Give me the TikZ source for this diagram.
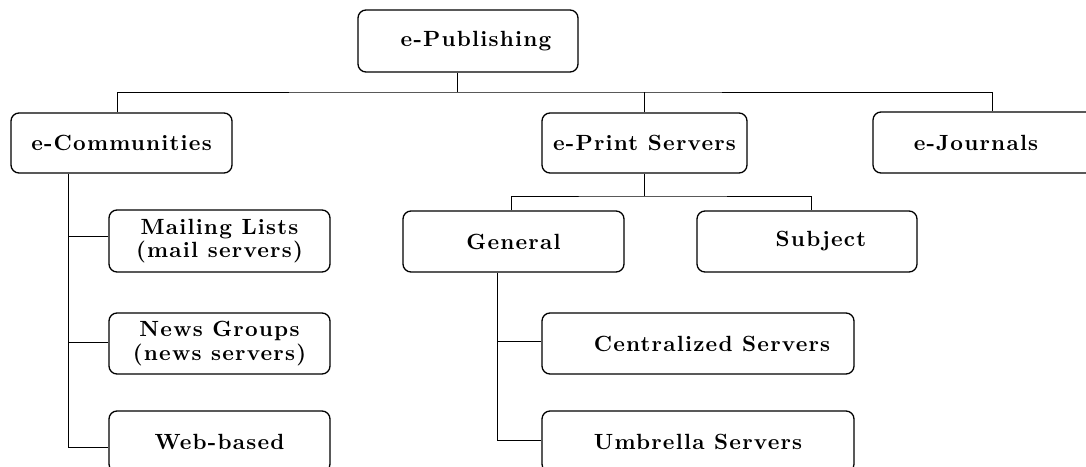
\documentclass[tikz,border=0pt]{standalone}
\usepackage{fontspec}
\setmainfont{Latin Modern Roman}
\newfontfamily\lsfont[LetterSpace=5.5]{lmroman10-bold.otf}
\begin{document}
\begin{tikzpicture}[x=0.5pt,y=-0.5pt,
  box/.style={draw, line width=0.65pt, rounded corners=4pt, inner sep=0pt,
    align=center, font=\lsfont\fontsize{11}{11.8}\selectfont},
  link/.style={draw, line width=0.5pt}]
\useasboundingbox (0,0) rectangle (1086,466);
\clip (0,0) rectangle (1086,466);
% top level
\node[box, minimum width=110pt, minimum height=31pt] (pub) at (468,41) {\hspace*{8pt}e-Publishing};
\node[box, minimum width=110.5pt, minimum height=30pt] (com) at (121.5,143) {e-Communities};
\node[box, minimum width=102.5pt, minimum height=30pt] (eps) at (644.5,143) {e-Print Servers};
\node[box, minimum width=111pt, minimum height=30.5pt] (ejo) at (984,142.5) {\hspace*{-8pt}e-Journals};
% e-Communities children
\node[box, minimum width=110.5pt, minimum height=31pt] (mail) at (219.5,241) {Mailing Lists\\(mail servers)};
\node[box, minimum width=110.5pt, minimum height=30.5pt] (news) at (219.5,343.5) {News Groups\\(news servers)};
\node[box, minimum width=110.5pt, minimum height=30.5pt] (web) at (219.5,441.5) {Web-based};
% e-Print children
\node[box, minimum width=110.5pt, minimum height=30.5pt] (gen) at (513.5,241.5) {General};
\node[box, minimum width=110pt, minimum height=30.5pt] (sub) at (807,241.5) {\hspace*{14pt}Subject};
\node[box, minimum width=156pt, minimum height=30.5pt] (cen) at (698,343.5) {\hspace*{14pt}Centralized Servers};
\node[box, minimum width=156pt, minimum height=30.5pt] (umb) at (698,441.5) {Umbrella Servers};
% connectors
\coordinate (t) at (457,92);
\coordinate (u) at (644.5,196);
\coordinate (cl) at ([xshift=-26.75pt]com.south);
\coordinate (gl) at ([xshift=-8.25pt]gen.south);
\draw[link] (pub.south -| t) -- (t);
\draw[link] ([xshift=-2pt]com.north) |- (t) -| ([xshift=4pt]ejo.north);
\draw[link] (eps.north) -- (eps.north |- t);
\draw[link] (eps.south) -- (u);
\draw[link] ([xshift=-1.25pt]gen.north) |- (u) -| ([xshift=2pt]sub.north);
\draw[link] (cl) |- ([yshift=-2.75pt]web.west);
\draw[link] ([yshift=2.5pt]mail.west) -- ([yshift=2.5pt]mail.west -| cl);
\draw[link] ([yshift=0.75pt]news.west) -- ([yshift=0.75pt]news.west -| cl);
\draw[link] (gl) |- ([yshift=0.75pt]umb.west);
\draw[link] ([yshift=1.25pt]cen.west) -- ([yshift=1.25pt]cen.west -| gl);
\end{tikzpicture}
\end{document}
